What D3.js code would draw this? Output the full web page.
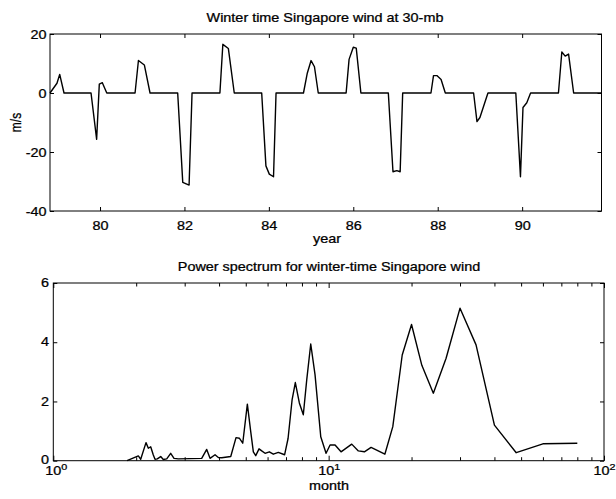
<!DOCTYPE html>
<html>
<head>
<meta charset="utf-8">
<script src="https://cdn.jsdelivr.net/npm/d3@7"></script>
<style>
  html, body { margin: 0; padding: 0; background: #fff; }
  svg { display: block; }
</style>
</head>
<body>
<svg id="chart" width="616" height="499"></svg>
<script>
// Winter-time 30-mb zonal wind at Singapore (m/s), by year
const windYear = [78.815, 78.98, 79.045, 79.147, 79.787, 79.92, 79.983, 80.055, 80.16,
  80.83, 80.91, 81.05, 81.185, 81.84, 81.96, 82.11, 82.18, 82.84, 82.91, 83.04, 83.18,
  83.83, 83.93, 84.01, 84.11, 84.17, 84.82, 84.91, 85.0, 85.08, 85.17, 85.83, 85.90, 86.0,
  86.07, 86.18, 86.83, 86.94, 87.03, 87.11, 87.17, 87.84, 87.90, 87.98, 88.08, 88.18,
  88.85, 88.93, 89.0, 89.19, 89.85, 89.96, 90.02, 90.11, 90.20, 90.86, 90.94, 91.02,
  91.10, 91.22, 91.87];
const windSpeed = [0, 3.3, 6.3, 0, 0, -15.7, 3, 3.5, 0,
  0, 11, 9.5, 0, 0, -30.3, -31.2, 0, 0, 16.5, 15.1, 0,
  0, -24.7, -27.5, -28.4, 0, 0, 6.7, 11, 8.9, 0, 0, 11.4, 15.5,
  15.2, 0, 0, -26.7, -26.3, -26.7, 0, 0, 5.9, 5.9, 4.6, 0,
  0, -9.7, -8.3, 0, 0, -28.4, -4.9, -3.3, 0, 0, 13.9, 12.5,
  13.2, 0, 0];
const yearTicks = [80, 82, 84, 86, 88, 90];
const windTicks = [-40, -20, 0, 20];

// Power spectrum of the winter-time wind, by period (months)
const period = [1.853, 2.036, 2.077, 2.171, 2.214, 2.258, 2.308, 2.341, 2.386, 2.455,
  2.509, 2.582, 2.669, 2.744, 2.845, 3.459, 3.607, 3.709, 3.867, 3.975, 4.090, 4.410,
  4.609, 4.738, 4.875, 5.067, 5.212, 5.327, 5.435, 5.587, 5.715, 5.875, 6.089, 6.296,
  6.566, 6.918, 7.122, 7.365, 7.568, 7.827, 8.091, 8.325, 8.609, 8.925, 9.361, 9.786,
  10.12, 10.55, 11.09, 12.13, 12.82, 13.48, 14.26, 16.0, 17.1, 18.5, 20, 21.8, 24,
  26.7, 30, 34.3, 40, 48, 60, 80];
const power = [0, 0.16, 0.05, 0.61, 0.42, 0.47, 0.19, 0.05, 0.06, 0.14,
  0.04, 0.06, 0.25, 0.08, 0.06, 0.08, 0.38, 0.08, 0.2, 0.11, 0.1, 0.14,
  0.78, 0.76, 0.59, 1.91, 0.98, 0.3, 0.17, 0.4, 0.33, 0.25, 0.3, 0.22,
  0.28, 0.2, 0.75, 2.05, 2.64, 1.95, 1.55, 2.73, 3.94, 2.9, 0.81, 0.25,
  0.53, 0.53, 0.3, 0.56, 0.33, 0.3, 0.45, 0.22, 1.15, 3.57, 4.6, 3.22, 2.28,
  3.46, 5.15, 3.91, 1.2, 0.27, 0.57, 0.59];
const powerTicks = [0, 2, 4, 6];
const decadeTicks = [1, 10, 100];
const decadeExp = ["0", "1", "2"];
const minorTicks = [2, 3, 4, 5, 6, 7, 8, 9, 20, 30, 40, 50, 60, 70, 80, 90];

const FONT = "'Liberation Sans', Arial, Helvetica, sans-serif";
const FS = 12;      // font size
const SX = 1.2;     // wide lettering
const plain = d => String(d);   // "-40" with an ASCII hyphen, "6" without decimals

const svg = d3.select("#chart");
svg.append("rect").attr("width", 616).attr("height", 499).attr("fill", "#fff");

function inkText(sel) {
  return sel.attr("font-family", FONT).attr("font-size", FS).attr("fill", "#000")
    .attr("stroke", "#000").attr("stroke-width", 0.25);
}

function wideText(x, y, str, anchor, rot) {
  return svg.append("text")
    .attr("transform", `translate(${x},${y}) scale(${SX},1)` + (rot ? ` rotate(${rot})` : ""))
    .attr("text-anchor", anchor || "middle")
    .call(inkText)
    .text(str);
}

function styleAxis(g) {
  g.select(".domain").remove();
  g.selectAll(".tick line").attr("stroke", "#000").attr("stroke-width", 1);
  g.selectAll(".tick text").call(inkText);
}

// ---------- Top panel: wind time series ----------
const p1 = { left: 50, right: 601.5, top: 34, bottom: 211 };
const x1 = d3.scaleLinear().domain([78.815, 91.88]).range([p1.left, p1.right]);
const y1 = d3.scaleLinear().domain([-40, 20]).range([p1.bottom, p1.top]);

svg.append("g").attr("transform", `translate(0,${p1.bottom})`)
  .call(d3.axisBottom(x1).tickValues(yearTicks).tickFormat(plain)
    .tickSize(-4).tickSizeOuter(0).tickPadding(0))
  .call(styleAxis)
  .call(g => g.selectAll(".tick text").attr("y", 19).attr("dy", null)
    .attr("transform", `scale(${SX},1)`));
svg.append("g").attr("transform", `translate(0,${p1.top})`)
  .call(d3.axisTop(x1).tickValues(yearTicks).tickSize(-4).tickSizeOuter(0).tickFormat(""))
  .call(styleAxis);
svg.append("g").attr("transform", `translate(${p1.left},0)`)
  .call(d3.axisLeft(y1).tickValues(windTicks).tickFormat(plain)
    .tickSize(-4).tickSizeOuter(0).tickPadding(0))
  .call(styleAxis)
  .call(g => g.selectAll(".tick text").attr("x", -3.5 / SX).attr("dy", "0.36em")
    .attr("transform", `scale(${SX},1)`));
svg.append("g").attr("transform", `translate(${p1.right},0)`)
  .call(d3.axisRight(y1).tickValues(windTicks).tickSize(-4).tickSizeOuter(0).tickFormat(""))
  .call(styleAxis);

svg.append("rect")
  .attr("x", p1.left).attr("y", p1.top)
  .attr("width", p1.right - p1.left).attr("height", p1.bottom - p1.top)
  .attr("fill", "none").attr("stroke", "#000").attr("stroke-width", 1);

const windLine = d3.line().x((d, i) => x1(windYear[i])).y(d => y1(d));
svg.append("path").datum(windSpeed)
  .attr("d", windLine)
  .attr("fill", "none").attr("stroke", "#000").attr("stroke-width", 1.4)
  .attr("stroke-linejoin", "round");

wideText(325, 22, "Winter time Singapore wind at 30-mb");
wideText(327, 243, "year");
wideText(21, (p1.top + p1.bottom) / 2, "m/s", "middle", -90);

// ---------- Bottom panel: power spectrum ----------
const p2 = { left: 53.3, right: 604, top: 283, bottom: 460.7 };
const x2 = d3.scaleLog().domain([1, 100]).range([p2.left, p2.right]);
const y2 = d3.scaleLinear().domain([0, 6]).range([p2.bottom, p2.top]);
const allLogTicks = decadeTicks.concat(minorTicks);

function logTickLength(g) {
  const sign = g.attr("data-dir") === "top" ? 1 : -1;
  g.selectAll(".tick line").attr("y2", d => (decadeTicks.includes(d) ? 5 : 3.5) * sign);
}

svg.append("g").attr("transform", `translate(0,${p2.bottom})`).attr("data-dir", "bottom")
  .call(d3.axisBottom(x2).tickValues(allLogTicks).tickSize(-4).tickSizeOuter(0).tickPadding(0)
    .tickFormat(() => ""))
  .call(styleAxis)
  .call(logTickLength)
  .call(g => {
    g.selectAll(".tick").filter(d => decadeTicks.includes(d)).select("text")
      .attr("x", d => (d === 1 ? 2.5 : 0) / SX)
      .attr("y", 14.5).attr("dy", null)
      .attr("transform", `scale(${SX},1)`)
      .each(function (d) {
        const t = d3.select(this);
        t.text(null);
        t.append("tspan").text("10");
        t.append("tspan").attr("dy", -5).attr("font-size", 9)
          .text(decadeExp[decadeTicks.indexOf(d)]);
      });
  });
svg.append("g").attr("transform", `translate(0,${p2.top})`).attr("data-dir", "top")
  .call(d3.axisTop(x2).tickValues(allLogTicks).tickSize(-4).tickSizeOuter(0).tickFormat(""))
  .call(styleAxis)
  .call(logTickLength);
svg.append("g").attr("transform", `translate(${p2.left},0)`)
  .call(d3.axisLeft(y2).tickValues(powerTicks).tickFormat(plain)
    .tickSize(-4).tickSizeOuter(0).tickPadding(0))
  .call(styleAxis)
  .call(g => g.selectAll(".tick text").attr("x", -4.3 / SX)
    .attr("dy", d => (d === 0 ? "0.2em" : "0.3em"))
    .attr("transform", `scale(${SX},1)`));
svg.append("g").attr("transform", `translate(${p2.right},0)`)
  .call(d3.axisRight(y2).tickValues(powerTicks).tickSize(-4).tickSizeOuter(0).tickFormat(""))
  .call(styleAxis);

svg.append("rect")
  .attr("x", p2.left).attr("y", p2.top)
  .attr("width", p2.right - p2.left).attr("height", p2.bottom - p2.top)
  .attr("fill", "none").attr("stroke", "#000").attr("stroke-width", 1);

const specLine = d3.line().x((d, i) => x2(period[i])).y(d => y2(d));
svg.append("path").datum(power)
  .attr("d", specLine)
  .attr("fill", "none").attr("stroke", "#000").attr("stroke-width", 1.4)
  .attr("stroke-linejoin", "round");

wideText(329, 271, "Power spectrum for winter-time Singapore wind");
wideText(329, 490, "month");
</script>
</body>
</html>
